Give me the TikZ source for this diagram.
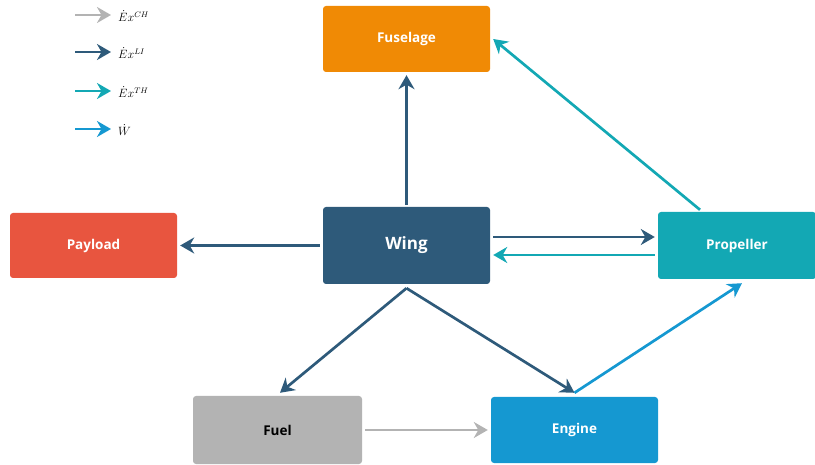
\documentclass[tikz,border=0pt]{standalone}
\usepackage{fontspec}
\setsansfont{Open Sans}
\usepackage{tikz}
\usetikzlibrary{arrows.meta}
\definecolor{wingblue}{HTML}{2E5A7A}
\definecolor{fusorange}{HTML}{F08A05}
\definecolor{payred}{HTML}{E8553F}
\definecolor{propteal}{HTML}{13A8B4}
\definecolor{fuelgray}{HTML}{B3B3B3}
\definecolor{engblue}{HTML}{1598D1}
\newcommand{\blockbox}[7]{\node[block, fill=#4, minimum width=#6pt, minimum height=#7pt] (#1) at ( #2 , #3 ) {#5};}
\tikzset{
  block/.style={draw=none, rounded corners=3pt, inner sep=0pt, text=white,
    font=\sffamily\bfseries\fontsize{13.5}{15}\selectfont},
  flow/.style={line width=2.7pt, -{Stealth[length=14pt, width=16pt, inset=4.5pt]}},
  legtext/.style={anchor=west, inner sep=0pt, font=\fontsize{12}{14}\selectfont}
}
\begin{document}
\begin{tikzpicture}[x=1pt, y=-1pt]
  \useasboundingbox (0,0) rectangle (815,465);
  % boxes
  \blockbox{fuselage}{406.5}{39}{fusorange}{Fuselage}{167}{66}
  \blockbox{payload}{93.5}{245.5}{payred}{Payload}{167}{65}
  \blockbox{prop}{737}{245.5}{propteal}{Propeller}{158}{67}
  \blockbox{fuel}{277.5}{430}{fuelgray}{\color{black}Fuel}{169}{68}
  \blockbox{engine}{574.5}{430}{engblue}{Engine}{167}{66}
  \node[block, fill=wingblue, minimum width=167pt, minimum height=77pt,
    font=\sffamily\bfseries\fontsize{17}{19}\selectfont] (wing) at (406.5,245.5) {Wing};

  % wing outputs
  \draw[flow, wingblue] ([yshift=2pt]wing.north) -- ([yshift=-3pt]fuselage.south);
  \draw[flow, wingblue] ([xshift=-3pt]wing.west) -- ([xshift=3pt]payload.east);
  \draw[flow, wingblue] ([xshift=3pt, yshift=8.5pt]wing.east) -- ([xshift=-3pt, yshift=8.5pt]prop.west);
  \draw[flow, wingblue] ([yshift=-4pt]wing.south) -- ([xshift=2.5pt, yshift=3pt]fuel.north);
  \draw[flow, wingblue] ([yshift=-4pt]wing.south) -- ([yshift=4pt]engine.north);

  % propeller outputs
  \draw[flow, propteal] ([xshift=-3pt, yshift=-9.5pt]prop.west) -- ([xshift=3pt, yshift=-9.5pt]wing.east);
  \draw[flow, propteal] ([xshift=-37pt, yshift=2pt]prop.north) -- ([xshift=3pt]fuselage.east);

  % engine and fuel
  \draw[flow, engblue] ([yshift=4pt]engine.north) -- ([xshift=5pt, yshift=-4pt]prop.south);
  \draw[flow, fuelgray] ([xshift=3pt]fuel.east) -- ([xshift=-3pt]engine.west);

  % legend
  \coordinate (l1a) at (75,15);  \coordinate (l1b) at (111,15);
  \coordinate (l2a) at (75,52);  \coordinate (l2b) at (111,52);
  \coordinate (l3a) at (75,91);  \coordinate (l3b) at (111,91);
  \coordinate (l4a) at (75,129); \coordinate (l4b) at (111,129);
  \draw[flow, fuelgray] (l1a) -- (l1b);
  \draw[flow, wingblue] (l2a) -- (l2b);
  \draw[flow, propteal] (l3a) -- (l3b);
  \draw[flow, engblue] (l4a) -- (l4b);
  \node[legtext] (t1) at (118,16) {$\dot{E}x^{CH}$};
  \node[legtext] (t2) at (118,53) {$\dot{E}x^{LI}$};
  \node[legtext] (t3) at (118,92) {$\dot{E}x^{TH}$};
  \node[legtext] (t4) at (118,130) {$\dot{W}$};
\end{tikzpicture}
\end{document}
